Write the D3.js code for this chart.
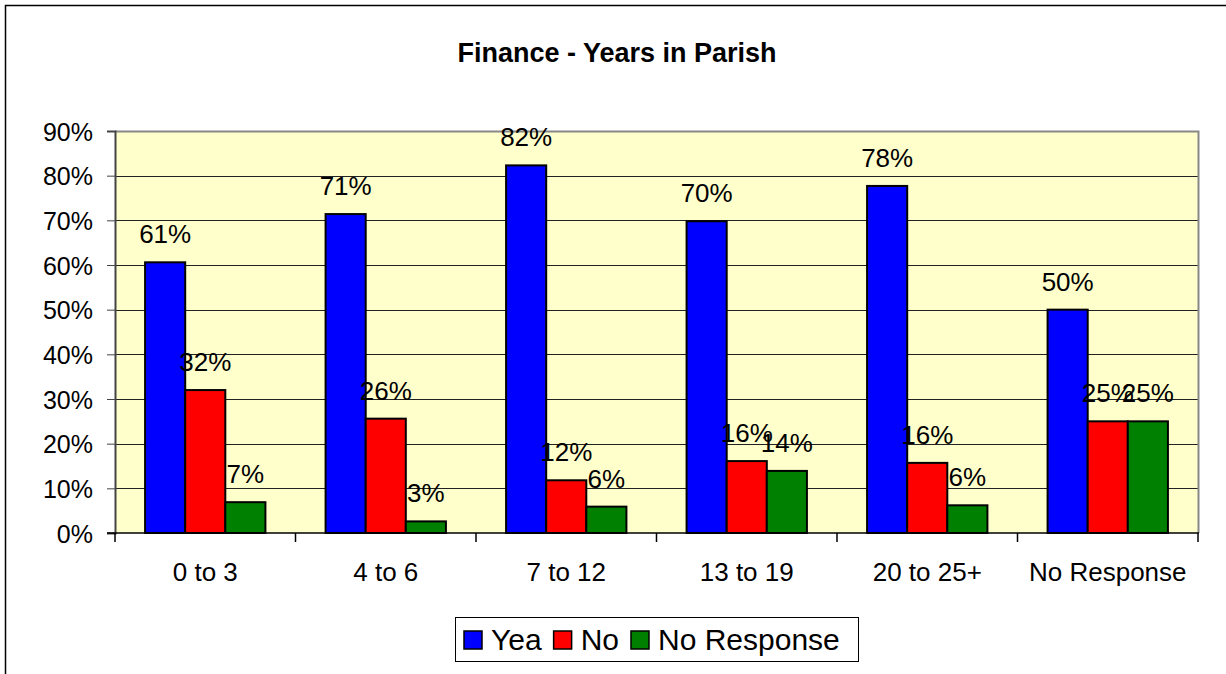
<!DOCTYPE html>
<meta charset="utf-8">
<body style="margin:0;background:#fff">
<script src="https://d3js.org/d3.v7.min.js"></script>
<script>
// data
var categories = ["0 to 3", "4 to 6", "7 to 12", "13 to 19", "20 to 25+", "No Response"];
var seriesNames = ["Yea", "No", "No Response"];
var yea        = [60.6, 71.4, 82.3, 69.8, 77.7, 50];
var no         = [32.0, 25.6, 11.8, 16.1, 15.7, 25];
var noResponse = [6.9, 2.6, 5.9, 13.9, 6.2, 25];
var yTicks = [0, 10, 20, 30, 40, 50, 60, 70, 80, 90];
var colors = ["#0000FF", "#FF0000", "#008000"];

var allSeries = [yea, no, noResponse];

var W = 1226, H = 674;
var plot = {left: 115, top: 131, right: 1198, bottom: 533};
var font = "Liberation Sans, Arial, sans-serif";

var svg = d3.select("body").append("svg")
	.attr("width", W)
	.attr("height", H)
	.style("display", "block");

// outer chart border (runs off right/bottom like the original)
svg.append("rect")
	.attr("x", 5.5).attr("y", 5.5)
	.attr("width", 1240).attr("height", 700)
	.attr("fill", "#fff")
	.attr("stroke", "#000").attr("stroke-width", 1.5);

// scales
var y = d3.scaleLinear().domain([0, 90]).range([plot.bottom, plot.top]);
var x0 = d3.scaleBand().domain(categories).range([plot.left, plot.right]).padding(0);
var bw = x0.bandwidth() / 4.5;   // excel gap width 150%
var x1 = d3.scaleBand().domain(seriesNames).range([0, bw * 3]).padding(0);
var groupOff = (x0.bandwidth() - bw * 3) / 2;

// plot area
svg.append("rect")
	.attr("x", plot.left).attr("y", plot.top)
	.attr("width", plot.right - plot.left).attr("height", plot.bottom - plot.top)
	.attr("fill", "#FFFFCC");

// gridlines
svg.append("g")
	.selectAll("line")
	.data(yTicks.filter(function(d){ return d > 0; }))
	.join("line")
	.attr("x1", plot.left).attr("x2", plot.right)
	.attr("y1", function(d){ return Math.round(y(d)) + 0.5; })
	.attr("y2", function(d){ return Math.round(y(d)) + 0.5; })
	.attr("stroke", "#222").attr("stroke-width", 1);

// plot border top/right (grey)
svg.append("path")
	.attr("d", "M" + plot.left + "," + (plot.top + 0.5) + "H" + (plot.right + 0.5) + "V" + plot.bottom)
	.attr("fill", "none")
	.attr("stroke", "#888").attr("stroke-width", 2);

// bars
var groups = svg.append("g").selectAll("g")
	.data(categories)
	.join("g")
	.attr("transform", function(d){ return "translate(" + (x0(d) + groupOff) + ",0)"; });

groups.selectAll("rect")
	.data(function(d, i){ return seriesNames.map(function(s, j){ return {s: s, j: j, v: allSeries[j][i]}; }); })
	.join("rect")
	.attr("x", function(d){ return x1(d.s); })
	.attr("y", function(d){ return y(d.v); })
	.attr("width", x1.bandwidth())
	.attr("height", function(d){ return y(0) - y(d.v); })
	.attr("fill", function(d){ return colors[d.j]; })
	.attr("stroke", "#000").attr("stroke-width", 2);

// data labels
groups.selectAll("text")
	.data(function(d, i){ return seriesNames.map(function(s, j){ return {s: s, j: j, v: allSeries[j][i]}; }); })
	.join("text")
	.attr("x", function(d){ return x1(d.s) + x1.bandwidth() / 2; })
	.attr("y", function(d){ return y(d.v) - 19; })
	.attr("text-anchor", "middle")
	.attr("font-family", font).attr("font-size", 26)
	.attr("fill", "#000")
	.text(function(d){ return Math.round(d.v) + "%"; });

// y axis
var yAxis = svg.append("g")
	.attr("transform", "translate(" + plot.left + ",0)")
	.call(d3.axisLeft(y).tickValues(yTicks).tickSize(8).tickPadding(14)
		.tickFormat(function(d){ return d + "%"; }));
yAxis.select(".domain").attr("stroke", "#444").attr("stroke-width", 2);
yAxis.selectAll(".tick line").attr("stroke", "#444");
yAxis.selectAll("text")
	.attr("font-family", font).attr("font-size", 25).attr("fill", "#000")
	.attr("dy", "0.36em");

// x axis
var xAxis = svg.append("g")
	.attr("transform", "translate(0," + plot.bottom + ")");
xAxis.append("line")
	.attr("x1", plot.left - 8).attr("x2", plot.right + 1)
	.attr("stroke", "#000").attr("stroke-width", 1.5);
xAxis.selectAll(".tk")
	.data(categories.concat([null]))
	.join("line")
	.attr("class", "tk")
	.attr("x1", function(d){ return d === null ? plot.right : x0(d); })
	.attr("x2", function(d){ return d === null ? plot.right : x0(d); })
	.attr("y1", 0).attr("y2", 9)
	.attr("stroke", "#000").attr("stroke-width", 1.5);
xAxis.selectAll("text")
	.data(categories)
	.join("text")
	.attr("x", function(d){ return x0(d) + x0.bandwidth() / 2; })
	.attr("y", 48)
	.attr("text-anchor", "middle")
	.attr("font-family", font).attr("font-size", 26)
	.attr("fill", "#000")
	.text(function(d){ return d; });

// title
svg.append("text")
	.attr("x", 617).attr("y", 62)
	.attr("text-anchor", "middle")
	.attr("font-family", font).attr("font-size", 27).attr("font-weight", "bold")
	.text("Finance - Years in Parish");

// legend
var leg = svg.append("g");
leg.append("rect")
	.attr("x", 455.5).attr("y", 617.5)
	.attr("width", 403).attr("height", 44)
	.attr("fill", "#fff").attr("stroke", "#000").attr("stroke-width", 1);
var lx = 464;
seriesNames.forEach(function(s, j){
	leg.append("rect")
		.attr("x", lx).attr("y", 631)
		.attr("width", 18).attr("height", 18)
		.attr("fill", colors[j]).attr("stroke", "#000").attr("stroke-width", 1.5);
	var t = leg.append("text")
		.attr("x", lx + 27).attr("y", 650)
		.attr("font-family", font).attr("font-size", 30)
		.text(s);
	lx += 27 + t.node().getComputedTextLength() + 12;
});
</script>
</body>
